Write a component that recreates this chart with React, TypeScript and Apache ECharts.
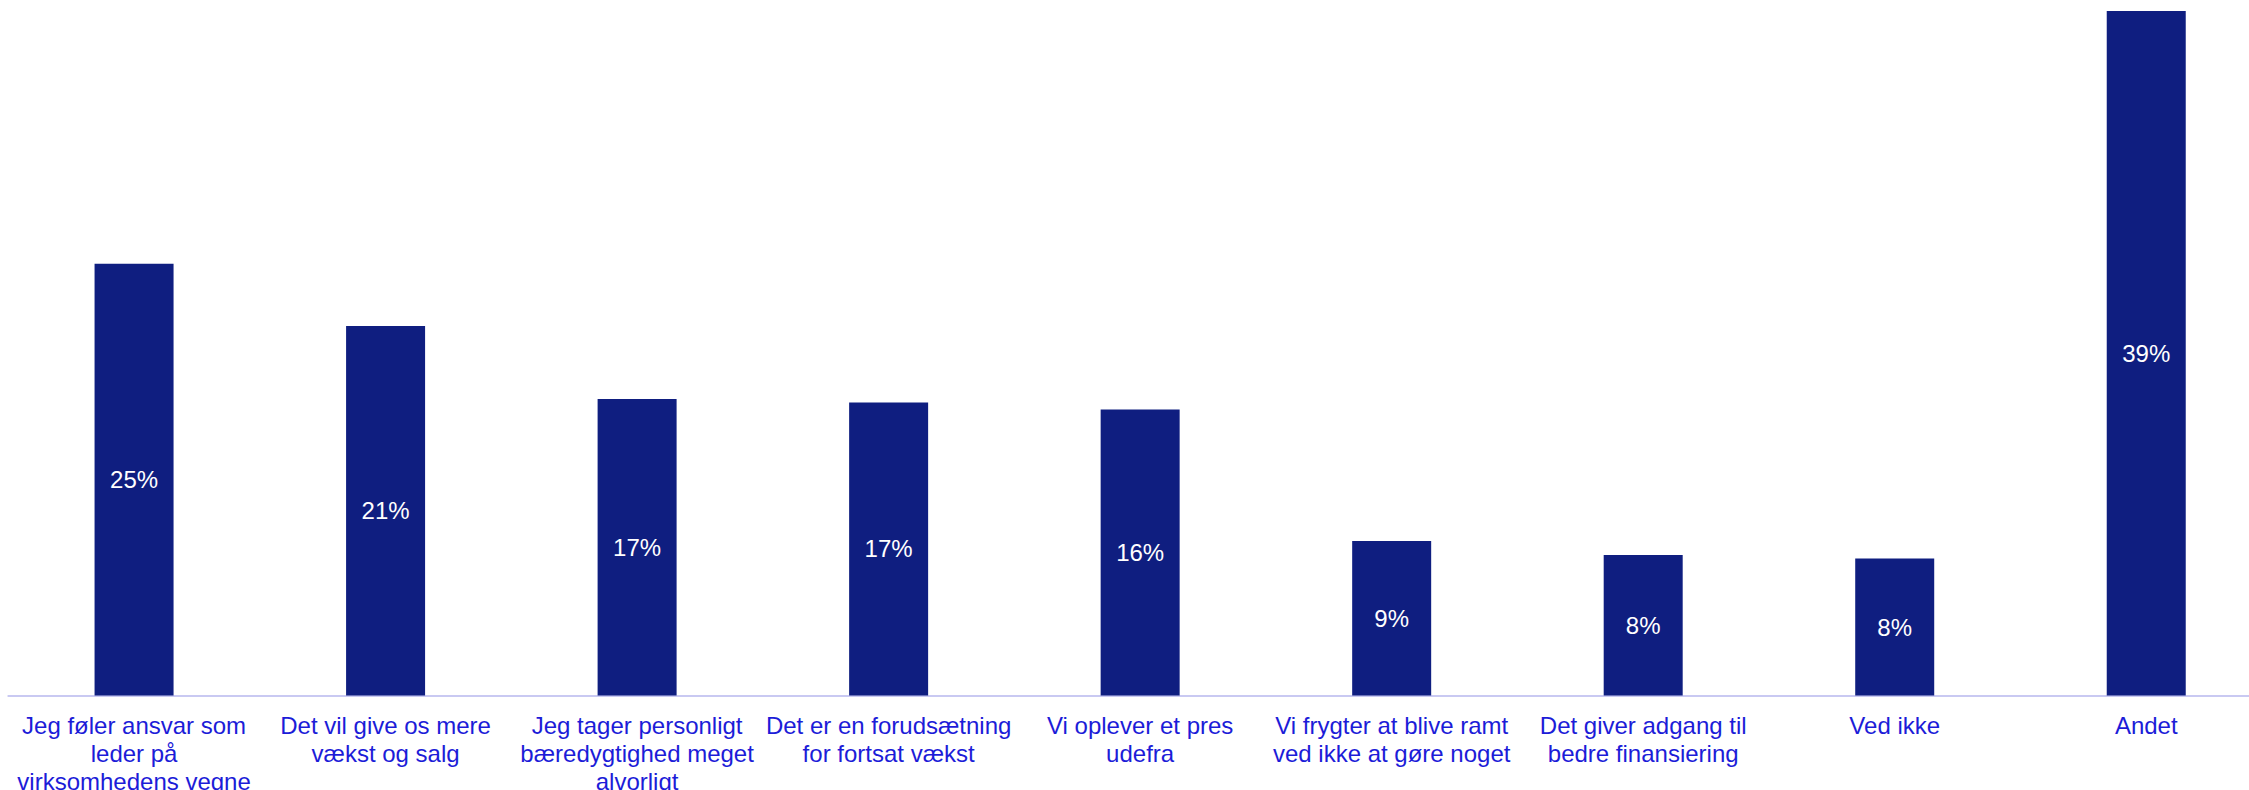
import React, { useEffect, useRef } from "react";
import * as echarts from "echarts";

const categories: string[] = [
  "Jeg føler ansvar som\nleder på\nvirksomhedens vegne",
  "Det vil give os mere\nvækst og salg",
  "Jeg tager personligt\nbæredygtighed meget\nalvorligt",
  "Det er en forudsætning\nfor fortsat vækst",
  "Vi oplever et pres\nudefra",
  "Vi frygter at blive ramt\nved ikke at gøre noget",
  "Det giver adgang til\nbedre finansiering",
  "Ved ikke",
  "Andet",
];

const values: number[] = [24.6, 21.05, 16.9, 16.7, 16.3, 8.8, 8.0, 7.8, 39.0];

const FONT = "'Liberation Sans', Arial, sans-serif";

export default function App() {
  const ref = useRef<HTMLDivElement>(null);
  useEffect(() => {
    if (!ref.current) return;
    const chart = echarts.init(ref.current, undefined, { renderer: "svg" });
    chart.setOption({
      animation: false,
      backgroundColor: "#ffffff",
      grid: {
        left: 8.3,
        top: 0,
        right: 0,
        bottom: 94.5,
        containLabel: false,
        outerBoundsMode: "none",
      },
      xAxis: {
        type: "category",
        data: categories,
        axisLine: { show: true, lineStyle: { color: "#c9c9f2", width: 2 } },
        axisTick: { show: false },
        axisLabel: {
          interval: 0,
          color: "#1c1cd8",
          fontFamily: FONT,
          fontSize: 24,
          lineHeight: 28,
          margin: 15.5,
          hideOverlap: false,
        },
      },
      yAxis: {
        type: "value",
        min: 0,
        max: 39.63,
        show: false,
        splitLine: { show: false },
      },
      series: [
        {
          type: "bar",
          data: values,
          barWidth: 79,
          itemStyle: { color: "#0f1e80" },
          label: {
            show: true,
            position: "inside",
            color: "#ffffff",
            fontFamily: FONT,
            fontSize: 24,
            formatter: (p: any) => `${Math.round(p.value)}%`,
          },
        },
      ],
    });
    return () => chart.dispose();
  }, []);
  return (
    <div
      style={{
        position: "fixed",
        left: 0,
        top: 0,
        width: 2249,
        height: 790,
        overflow: "hidden",
        background: "#fff",
      }}
    >
      <div ref={ref} style={{ width: 2272, height: 790 }} />
    </div>
  );
}
